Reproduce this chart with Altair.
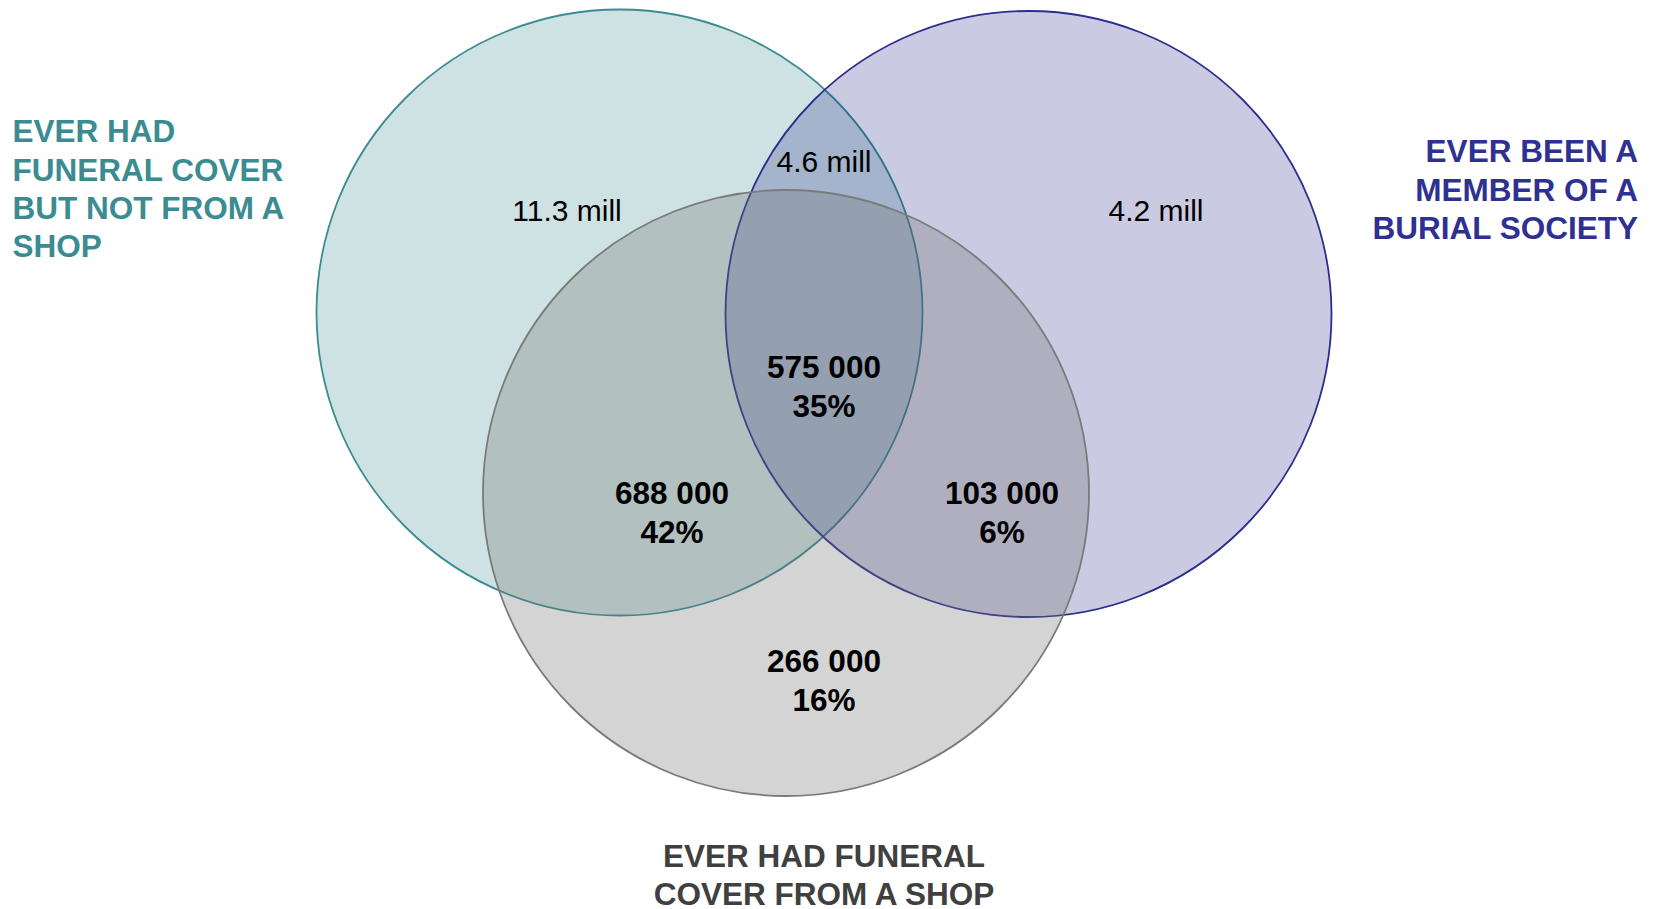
import altair as alt
import pandas as pd

# ---- data -------------------------------------------------------------
# Set names, one entry per printed line
SET_LINES = [
    ["EVER HAD", "FUNERAL COVER", "BUT NOT FROM A", "SHOP"],
    ["EVER BEEN A", "MEMBER OF A", "BURIAL SOCIETY"],
    ["EVER HAD FUNERAL", "COVER FROM A SHOP"],
]

# Regions outside the shop circle (people, millions)
MILL_LABELS = ["11.3 mill", "4.6 mill", "4.2 mill"]

# Regions inside the shop circle: count and share of shop-cover holders
SHOP_COUNTS = [575000, 688000, 103000, 266000]
SHOP_SHARES = [35, 42, 6, 16]

# ---- layout and styling -----------------------------------------------
W, H = 1655, 909
RADIUS = 303
CIRCLE_X = [619.5, 1028.5, 786.0]
CIRCLE_Y = [312.5, 314.0, 493.0]
STROKE_COLORS = ["#3a8c91", "#2b2e8c", "#7a7a7a"]
FILL_COLORS = ["#3a8c91", "#1c2082", "#707070"]
FILL_OPACITY = [0.25, 0.23, 0.30]
TEXT_COLORS = ["#3a8c91", "#2e3192", "#404040"]

MILL_POS = [(567, 210), (824, 161.5), (1156, 210)]
SHOP_POS = [(824, 367), (672, 493), (1002, 493), (824, 661)]
LINE_STEP = 38.5

SET_ANCHOR = [(12.5, 131.0, "left"), (1638.0, 151.0, "right"), (824.0, 855.5, "center")]
SET_STEP = 38.3

FONT = "Liberation Sans"
BIG = 31.5
MID = 30


def baseline(center, size):
    # cap-height centre -> alphabetic baseline
    return center + 0.358 * size


XS = alt.Scale(domain=[0, W], nice=False, zero=False)
YS = alt.Scale(domain=[0, H], nice=False, zero=False, reverse=True)


def xy(xf="x", yf="y"):
    return dict(
        x=alt.X(f"{xf}:Q", scale=XS, axis=None),
        y=alt.Y(f"{yf}:Q", scale=YS, axis=None),
    )


# ---- circles ----------------------------------------------------------
circles_df = pd.DataFrame({
    "set": [" / ".join(s) for s in SET_LINES],
    "cx": CIRCLE_X,
    "cy": CIRCLE_Y,
    "area": [(2 * RADIUS) ** 2] * 3,
    "fill": FILL_COLORS,
    "stroke": STROKE_COLORS,
    "fo": FILL_OPACITY,
    "k": [0, 1, 2],
})

circles = alt.Chart(circles_df).mark_point(
    shape="circle", filled=True, opacity=1, strokeOpacity=1, strokeWidth=1.8
).encode(
    **xy("cx", "cy"),
    size=alt.Size("area:Q", scale=None, legend=None),
    fill=alt.Fill("fill:N", scale=None, legend=None),
    stroke=alt.Stroke("stroke:N", scale=None, legend=None),
    fillOpacity=alt.FillOpacity("fo:Q", scale=None, legend=None),
    order=alt.Order("k:Q"),
)

# ---- region labels ----------------------------------------------------
mill_df = pd.DataFrame({
    "text": MILL_LABELS,
    "x": [p[0] for p in MILL_POS],
    "y": [baseline(p[1], MID) for p in MILL_POS],
})
mill_text = alt.Chart(mill_df).mark_text(
    font=FONT, fontSize=MID, color="#000000", align="center", baseline="alphabetic"
).encode(**xy(), text="text:N")

shop_rows = []
for count, share, (px, py) in zip(SHOP_COUNTS, SHOP_SHARES, SHOP_POS):
    shop_rows.append({"text": f"{count:,}".replace(",", " "), "x": px, "y": baseline(py, BIG)})
    shop_rows.append({"text": f"{share}%", "x": px, "y": baseline(py + LINE_STEP, BIG)})
shop_text = alt.Chart(pd.DataFrame(shop_rows)).mark_text(
    font=FONT, fontSize=BIG, fontWeight="bold", color="#000000",
    align="center", baseline="alphabetic"
).encode(**xy(), text="text:N")

# ---- set labels -------------------------------------------------------
set_layers = []
for lines, color, (ax, ay, al) in zip(SET_LINES, TEXT_COLORS, SET_ANCHOR):
    df = pd.DataFrame({
        "text": lines,
        "x": [ax] * len(lines),
        "y": [baseline(ay + i * SET_STEP, BIG) for i in range(len(lines))],
    })
    set_layers.append(
        alt.Chart(df).mark_text(
            font=FONT, fontSize=BIG, fontWeight="bold", color=color,
            align=al, baseline="alphabetic"
        ).encode(**xy(), text="text:N")
    )

chart = alt.layer(circles, mill_text, shop_text, *set_layers).properties(
    width=W, height=H, padding=0,
    autosize=alt.AutoSizeParams(type="none"),
).configure_view(stroke=None)

chart.save("out.html", embed_options={"renderer": "svg", "actions": False})
